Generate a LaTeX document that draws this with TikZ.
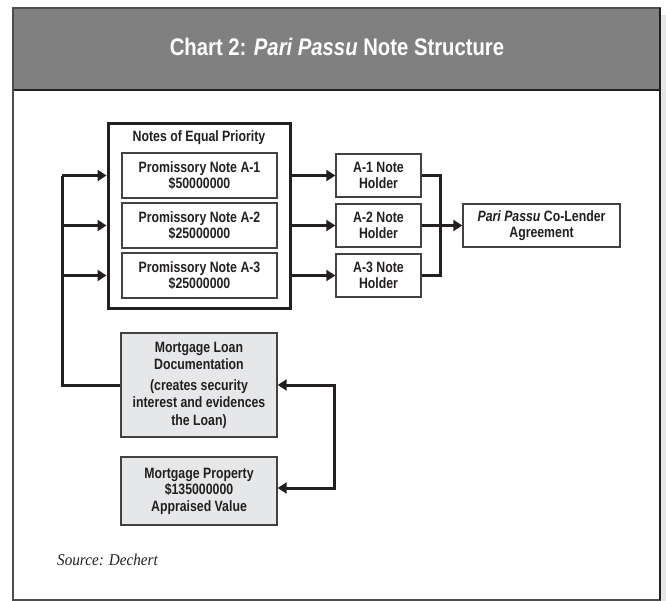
\documentclass[tikz,border=0pt]{standalone}
\usepackage{fontspec}
\newfontfamily\cond{Liberation Sans}[FakeStretch=0.82]
\newfontfamily\titlefont{Liberation Sans}[FakeStretch=0.845]
\newfontfamily\srcfont{Liberation Serif}[FakeStretch=0.92]
\usetikzlibrary{arrows.meta}
\definecolor{hdr}{HTML}{808080}
\definecolor{ink}{HTML}{231F20}
\definecolor{boxfill}{HTML}{E6E7E8}
\definecolor{shadow}{HTML}{E5E5E5}
\tikzset{
  txt/.style={font=\cond\bfseries\fontsize{15}{16.5}\selectfont, align=center, text=ink},
  notebox/.style={txt, draw=ink!85, line width=1.4, minimum width=155, minimum height=45, inner sep=0},
  holderbox/.style={txt, draw=ink!85, line width=1.4, minimum width=85, minimum height=43, inner sep=0},
  graybox/.style={txt, draw=ink!85, fill=boxfill, line width=1.4, minimum width=156, inner sep=0},
  conn/.style={draw=ink, line width=3},
  arr/.style={conn, -{Triangle[length=9,width=11]}},
  darr/.style={conn, {Triangle[length=9,width=11]}-{Triangle[length=9,width=11]}},
}
\begin{document}
\begin{tikzpicture}[x=1pt,y=-1pt]
\useasboundingbox (0,0) rectangle (666,601);
% shadow strip and frame
\fill[shadow] (661,15) rectangle (666,601);
\fill[white] (13,8) rectangle (660,600);
\fill[hdr] (13,8) rectangle (660,90);
\draw[ink, line width=1.2] (13,90) -- (660,90);
\draw[ink!80, line width=1.4] (13,8) rectangle (660,600);
\draw[ink, line width=2] (660,8) -- (660,600);
\node[font=\titlefont\bfseries\fontsize{24}{27}\selectfont, text=white] (title) at (337,47)
  {Chart 2: \textit{Pari Passu} Note Structure};
% outer box
\node[draw=ink, line width=3, minimum width=182, minimum height=185, inner sep=0] (outer) at (199,216.5) {};
\node[txt] (otitle) at (199,138) {Notes of Equal Priority};
\node[notebox] (p1) at (199.5,175.5) {Promissory Note A-1\\\$50000000};
\node[notebox] (p2) at (199.5,225.5) {Promissory Note A-2\\\$25000000};
\node[notebox] (p3) at (199.5,275.5) {Promissory Note A-3\\\$25000000};
% holders
\node[holderbox] (h1) at (378.5,175.5) {A-1 Note\\Holder};
\node[holderbox] (h2) at (378.5,225.5) {A-2 Note\\Holder};
\node[holderbox] (h3) at (378.5,275.5) {A-3 Note\\Holder};
\node[holderbox, minimum width=157] (agree) at (541.5,225.5) {\textit{Pari Passu} Co-Lender\\Agreement};
% mortgage boxes
\node[graybox, minimum height=104, font=\cond\bfseries\fontsize{15}{17.5}\selectfont] (mloan) at (199,385)
  {Mortgage Loan\\Documentation\\[3pt](creates security\\interest and evidences\\the Loan)};
\node[graybox, minimum height=68] (mprop) at (199,491)
  {Mortgage Property\\\$135000000\\Appraised Value};
% source
\node[font=\srcfont\itshape\fontsize{16.5}{19}\selectfont, text=ink, anchor=west, inner sep=0] (src) at (57,560) {Source: Dechert};
% connectors
\coordinate (bus) at (62,176);
\coordinate (bx) at (440,176);
\draw[conn] (mloan.west) -| (bus);
\foreach \i in {1,2,3} {
  \draw[arr] (bus |- p\i.west) -- (outer.west |- p\i.west);
  \draw[arr] (outer.east |- p\i.east) -- (h\i.west);
}
\draw[conn] (h1.east) -| (bx) |- (h3.east);
\draw[arr] (h2.east) -- (agree.west);
\draw[darr] (mloan.east) -- ++(57,0) |- ([yshift=3pt]mprop.east);
\end{tikzpicture}
\end{document}
